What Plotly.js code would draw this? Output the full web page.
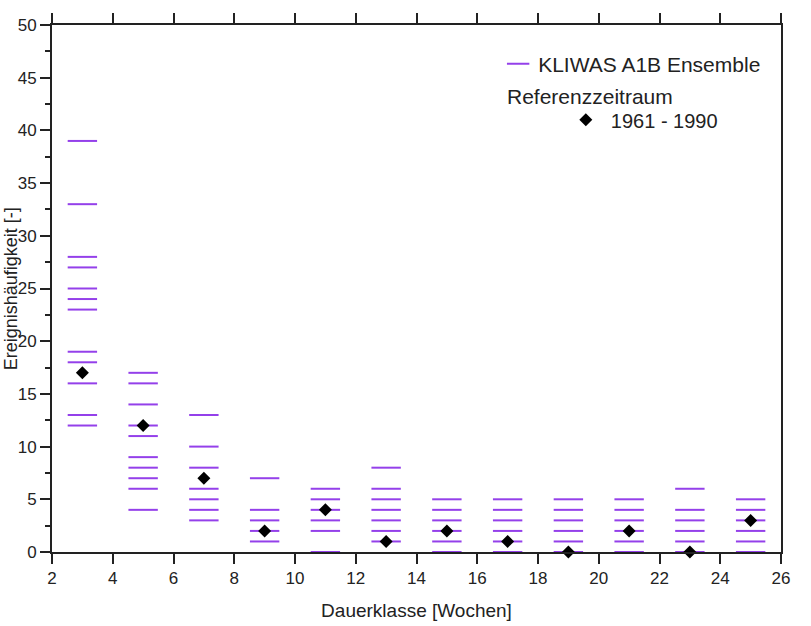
<!DOCTYPE html>
<html>
<head>
<meta charset="utf-8">
<script src="https://cdn.plot.ly/plotly-3.0.1.min.js"></script>
<style>html,body{margin:0;padding:0;background:#fff;}#chart{width:811px;height:626px;}</style>
</head>
<body>
<div id="chart"></div>
<script>
// Duration classes (weeks)
const classes = [3, 5, 7, 9, 11, 13, 15, 17, 19, 21, 23, 25];
// KLIWAS A1B ensemble event counts per duration class
const ens3  = [39, 33, 28, 27, 25, 24, 23, 19, 18, 16, 13, 12];
const ens5  = [17, 16, 14, 12, 11, 9, 8, 7, 6, 4];
const ens7  = [13, 10, 8, 6, 5, 4, 3];
const ens9  = [7, 4, 3, 2, 1];
const ens11 = [6, 5, 4, 3, 2, 0];
const ens13 = [8, 6, 5, 4, 3, 2, 1];
const ens15 = [5, 4, 3, 2, 1, 0];
const ens17 = [5, 4, 3, 2, 1, 0];
const ens19 = [5, 4, 3, 2, 1, 0];
const ens21 = [5, 4, 3, 2, 1, 0];
const ens23 = [6, 4, 3, 2, 1, 0];
const ens25 = [5, 4, 3, 2, 1, 0];
// Reference period 1961 - 1990
const reference = [17, 12, 7, 2, 4, 1, 2, 1, 0, 2, 0, 3];
const xTicks = [2, 4, 6, 8, 10, 12, 14, 16, 18, 20, 22, 24, 26];
const yTicks = [0, 5, 10, 15, 20, 25, 30, 35, 40, 45, 50];
const yMinorTicks = [2.5, 7.5, 12.5, 17.5, 22.5, 27.5, 32.5, 37.5, 42.5, 47.5];

const ensembles = [ens3, ens5, ens7, ens9, ens11, ens13, ens15, ens17, ens19, ens21, ens23, ens25];
const ex = [], ey = [];
ensembles.forEach((vals, i) => vals.forEach(v => { ex.push(classes[i]); ey.push(v); }));

const purple = '#9440ea';
const font = 'Liberation Sans, Arial, sans-serif';

const traces = [
  {
    type: 'scatter', mode: 'markers', x: ex, y: ey,
    name: 'KLIWAS A1B Ensemble', legend: 'legend',
    marker: {symbol: 'line-ew', size: 21, color: purple, line: {color: purple, width: 2}},
    cliponaxis: false, hoverinfo: 'x+y'
  },
  {
    type: 'scatter', mode: 'markers', x: classes, y: reference,
    name: '1961 - 1990', legend: 'legend2',
    marker: {symbol: 'diamond', size: 10, color: '#000'},
    cliponaxis: false
  }
];

const axisCommon = {
  showgrid: false, zeroline: false, showline: true, linecolor: '#222', linewidth: 2,
  ticks: 'outside', ticklen: 10, tickwidth: 2, tickcolor: '#222',
  tickfont: {family: font, size: 17, color: '#222'}
};

const layout = {
  width: 811, height: 626,
  margin: {l: 52, r: 30, t: 25, b: 74},
  paper_bgcolor: '#fff', plot_bgcolor: '#fff',
  font: {family: font, color: '#222'},
  xaxis: Object.assign({}, axisCommon, {
    range: [2, 26], tickvals: xTicks, mirror: 'allticks',
    title: {text: 'Dauerklasse [Wochen]', font: {family: font, size: 19, color: '#222'}, standoff: 16}
  }),
  yaxis: Object.assign({}, axisCommon, {
    range: [0, 50], tickvals: yTicks, mirror: true,
    minor: {tickvals: yMinorTicks, ticks: 'outside', ticklen: 5, tickwidth: 2, tickcolor: '#222'}
  }),
  showlegend: true,
  legend: {
    x: 0.612, y: 0.926, xanchor: 'left', yanchor: 'middle',
    bgcolor: 'rgba(0,0,0,0)', font: {family: font, size: 21, color: '#222'},
    itemsizing: 'trace'
  },
  legend2: {
    x: 0.698, y: 0.82, xanchor: 'left', yanchor: 'middle', itemwidth: 40,
    bgcolor: 'rgba(0,0,0,0)', font: {family: font, size: 20, color: '#222'}
  },
  annotations: [
    {xref: 'paper', yref: 'paper', x: 0.621, y: 0.865, xanchor: 'left', yanchor: 'middle',
     text: 'Referenzzeitraum', showarrow: false, font: {family: font, size: 21, color: '#222'}},
    {xref: 'paper', yref: 'paper', x: -0.0565, y: 0.5, xanchor: 'center', yanchor: 'middle',
     text: 'Ereignishäufigkeit [-]', textangle: -90, showarrow: false,
     font: {family: font, size: 18, color: '#222'}}
  ]
};

Plotly.newPlot('chart', traces, layout, {displayModeBar: false, staticPlot: true});
</script>
</body>
</html>
